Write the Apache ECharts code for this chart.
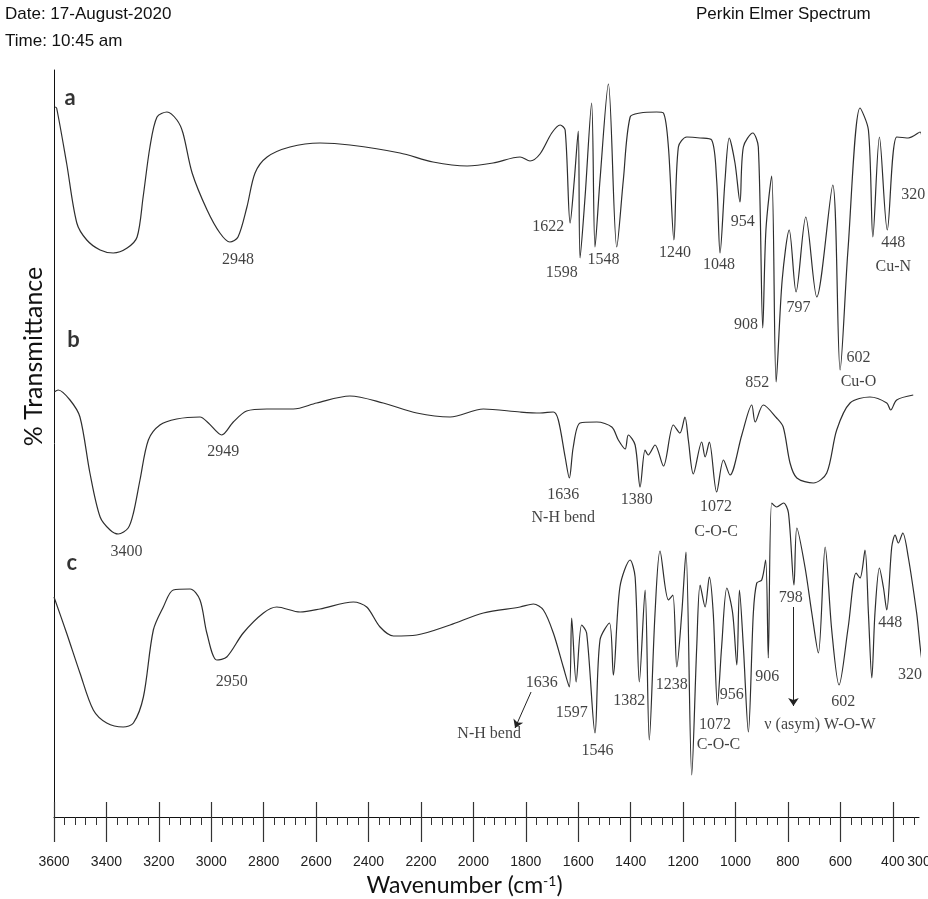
<!DOCTYPE html>
<html>
<head>
<meta charset="utf-8">
<title>FTIR spectra</title>
<script src="https://cdn.jsdelivr.net/npm/echarts@6/dist/echarts.min.js"></script>
<style>
html, body { margin: 0; padding: 0; background: #fff; }
#chart { width: 928px; height: 899px; }
</style>
</head>
<body>
<div id="chart"></div>
<script>
// [wavenumber cm-1, relative transmittance] - the three curves are stacked
var traceA = [
	[3596,71.0],[3590,70.9],[3552,65.4],[3513,59.4],[3475,57.7],[3424,56.7],[3374,56.4],[3321,56.9],
	[3283,58.0],[3260,62.0],[3234,67.0],[3207,70.0],[3169,70.5],[3131,69.7],[3108,68.4],[3073,64.4],
	[3016,60.7],[2967,58.4],[2929,57.5],[2898,58.0],[2864,61.0],[2833,64.4],[2787,66.0],[2700,67.0],
	[2585,67.4],[2471,67.2],[2280,66.4],[2154,65.5],[2024,65.1],[1925,65.4],[1822,66.0],[1784,65.6],
	[1746,66.3],[1701,68.4],[1669,69.2],[1650,68.7],[1631,59.4],[1615,63.7],[1600,68.6],[1593,55.9],
	[1574,62.0],[1549,71.4],[1536,57.0],[1517,63.7],[1485,73.3],[1453,57.0],[1428,63.7],[1402,70.0],
	[1364,70.4],[1301,70.5],[1275,70.4],[1256,67.0],[1235,57.7],[1218,67.0],[1186,68.0],[1135,67.9],
	[1091,67.7],[1072,63.7],[1059,56.4],[1040,63.7],[1024,67.9],[1002,65.4],[983,61.5],[970,67.0],
	[934,68.4],[913,67.0],[896,48.9],[884,58.7],[862,64.1],[845,43.5],[822,53.7],[795,58.7],
	[769,52.5],[732,60.0],[690,52.0],[629,63.2],[601,44.7],[571,56.7],[525,70.9],[493,68.7],
	[476,58.0],[451,68.0],[421,58.7],[385,68.0],[341,67.9],[296,68.5],[277,63.0],[266,67.4]
];
var traceB = [
	[3599,42.5],[3584,42.7],[3539,41.7],[3501,40.0],[3463,34.4],[3424,30.0],[3386,28.7],[3355,28.3],
	[3317,28.9],[3297,30.4],[3272,33.7],[3240,37.7],[3196,39.2],[3132,39.8],[3043,40.0],[3011,39.4],
	[2960,38.2],[2916,39.5],[2865,40.6],[2788,40.8],[2687,40.8],[2598,41.4],[2471,42.1],[2344,41.4],
	[2216,40.4],[2089,40.0],[1962,40.8],[1822,40.5],[1746,40.4],[1695,40.5],[1676,39.7],[1650,36.0],
	[1634,33.9],[1619,37.0],[1593,39.4],[1529,39.5],[1472,39.0],[1447,37.7],[1421,36.8],[1409,38.2],
	[1383,37.2],[1364,33.0],[1345,36.7],[1333,36.2],[1307,37.2],[1275,35.1],[1237,39.2],[1212,38.4],
	[1193,40.0],[1180,37.7],[1161,34.3],[1129,37.5],[1116,36.0],[1100,37.5],[1072,32.5],[1046,35.7],
	[1021,34.2],[976,38.2],[938,41.2],[925,39.5],[894,41.2],[843,39.9],[818,39.0],[792,35.4],
	[766,33.9],[703,33.4],[652,34.4],[614,38.7],[563,41.4],[487,42.0],[423,41.4],[408,40.7],
	[385,41.7],[322,42.2]
];
var traceC = [
	[3600,22.0],[3552,18.4],[3501,14.4],[3450,10.7],[3399,9.4],[3336,9.0],[3297,9.4],[3259,12.0],
	[3221,18.7],[3183,21.0],[3145,22.7],[3081,22.8],[3043,21.7],[3017,18.4],[2979,15.7],[2941,16.0],
	[2878,18.4],[2801,20.4],[2750,21.0],[2661,20.5],[2585,20.8],[2458,21.5],[2407,21.0],[2356,19.0],
	[2305,18.1],[2216,18.2],[2089,19.2],[1962,20.4],[1822,21.0],[1771,21.3],[1733,20.7],[1695,18.4],
	[1657,15.0],[1634,13.0],[1625,19.9],[1608,13.5],[1587,19.2],[1568,18.4],[1536,8.4],[1517,17.7],
	[1481,19.4],[1466,14.2],[1441,23.0],[1402,25.7],[1383,24.0],[1367,13.5],[1345,22.7],[1329,7.7],
	[1307,20.4],[1288,26.6],[1256,21.7],[1239,22.2],[1224,15.0],[1205,20.4],[1189,26.5],[1167,4.2],
	[1148,17.0],[1135,23.2],[1116,21.0],[1100,24.0],[1085,20.4],[1069,11.2],[1053,17.0],[1033,22.9],
	[1011,20.4],[995,15.2],[985,22.7],[970,17.0],[951,8.5],[932,20.4],[919,23.4],[900,23.7],
	[885,25.7],[875,15.9],[862,31.4],[843,31.0],[817,31.4],[798,30.4],[777,23.2],[766,28.9],
	[735,25.0],[709,20.4],[684,16.4],[658,27.0],[633,18.7],[605,13.2],[570,19.0],[540,24.4],
	[525,23.9],[506,26.7],[493,20.4],[480,13.9],[468,20.4],[451,24.9],[436,23.0],[423,20.7],
	[404,27.0],[391,28.2],[379,27.4],[362,28.4],[341,26.0],[309,20.4],[283,15.0],[265,18.0]
];

// peak annotations: [wavenumber, level, text]
var labelsA = [
	[2898,55.7,'2948'],[1714,59.0,'1622'],[1663,54.4,'1598'],[1504,55.7,'1548'],[1231,56.4,'1240'],
	[1063,55.2,'1048'],[972,59.5,'954'],[960,49.2,'908'],[917,43.4,'852'],[760,50.9,'797'],
	[531,45.9,'602'],[531,43.5,'Cu-O'],[398,57.4,'448'],[398,55.0,'Cu-N'],[322,62.2,'320']
];
var labelsB = [
	[2954,36.5,'2949'],[3323,26.5,'3400'],[1657,32.2,'1636'],[1657,29.9,'N-H bend'],
	[1377,31.7,'1380'],[1074,31.0,'1072'],[1074,28.5,'C-O-C']
];
var labelsC = [
	[2922,13.5,'2950'],[1739,13.4,'1636'],[1940,8.3,'N-H bend'],[1625,10.4,'1597'],[1527,6.6,'1546'],
	[1405,11.6,'1382'],[1243,13.2,'1238'],[1078,9.2,'1072'],[1065,7.2,'C-O-C'],[1014,12.2,'956'],
	[879,14.0,'906'],[789,21.9,'798'],[678,9.2,'ν (asym) W-O-W'],[589,11.5,'602'],[410,19.4,'448'],
	[334,14.2,'320']
];
var traceNames = [[3539,71.9,'a'],[3526,47.7,'b'],[3532,25.4,'c']];
var arrows = [
	[[1780,12.5],[1841,8.9]],
	[[779,21.0],[779,11.1]]
];

var tickLabels = [3600,3400,3200,3000,2800,2600,2400,2200,2000,1800,1600,1400,1200,1000,800,600,400,300];
var majorTicks = [3600,3400,3200,3000,2800,2600,2400,2200,2000,1800,1600,1400,1200,1000,800,600,400];
var minorTicks = [];
for (var w = 3560; w > 300; w -= 40) {
	if (w % 200 != 0) minorTicks.push(w);
}

var serif = 'Liberation Serif';
var sans = '"Liberation Sans", Arial, sans-serif';

function lineSeries(data) {
	return {
		type: 'line', data: data, symbol: 'none', smooth: 0.3, clip: false, silent: true,
		lineStyle: {color: '#2e2e2e', width: 1.2}
	};
}
function textSeries(list, style) {
	return {
		type: 'scatter', symbolSize: 1, clip: false, silent: true,
		itemStyle: {color: 'rgba(0,0,0,0)'},
		data: list.map(function (d) { return {value: [d[0], d[1]], name: d[2]}; }),
		label: Object.assign({show: true, position: 'inside', formatter: '{b}', color: '#111'}, style)
	};
}

var arrowSeries = textSeries([], {});
arrowSeries.markLine = {
	silent: true, symbol: ['none', 'arrow'], symbolSize: 8, animation: false,
	label: {show: false},
	lineStyle: {color: '#222', width: 1, type: 'solid'},
	data: arrows.map(function (a) { return [{coord: a[0]}, {coord: a[1]}]; })
};

var xBase = {type: 'value', inverse: true, min: 300, max: 3600, position: 'bottom', splitLine: {show: false}};
var headStyle = {fontFamily: sans, fontSize: 17, fontWeight: 'normal', color: '#111'};

var myChart = echarts.init(document.getElementById('chart'));
var option = {
	animation: false,
	title: [
		{text: 'Date: 17-August-2020', left: 5, top: 6, padding: 0, textStyle: headStyle},
		{text: 'Time: 10:45 am', left: 5, top: 33, padding: 0, textStyle: headStyle},
		{text: 'Perkin Elmer Spectrum', left: 696, top: 6, padding: 0, textStyle: headStyle}
	],
	grid: {left: 54, right: 9, top: 70, bottom: 82, containLabel: false, outerBoundsMode: 'none'},
	xAxis: [
		Object.assign({}, xBase, {
			axisLine: {show: true, lineStyle: {color: '#111', width: 1}},
			axisTick: {show: true, customValues: majorTicks, length: 25, lineStyle: {color: '#333', width: 1.2}},
			axisLabel: {
				customValues: tickLabels, margin: 38, fontFamily: sans, fontSize: 14, color: '#222',
				showMinLabel: true, showMaxLabel: true, hideOverlap: false,
				formatter: function (v) { return String(v); }
			},
			name: 'Wavenumber (cm{sup|-1})',
			nameLocation: 'middle',
			nameGap: 57,
			nameTextStyle: {
				fontFamily: 'Lato', fontSize: 23, color: '#111', padding: [0, 44, 0, 0],
				rich: {sup: {fontFamily: 'Lato', fontSize: 14, verticalAlign: 'top', padding: [0, 0, 10, 0], color: '#111'}}
			}
		}),
		Object.assign({}, xBase, {
			axisLine: {show: false},
			axisTick: {show: true, inside: true, customValues: majorTicks, length: 15, lineStyle: {color: '#333', width: 1.2}},
			axisLabel: {show: false}
		}),
		Object.assign({}, xBase, {
			axisLine: {show: false},
			axisTick: {show: true, customValues: minorTicks, length: 8, lineStyle: {color: '#333', width: 1}},
			axisLabel: {show: false}
		})
	],
	yAxis: {
		type: 'value', min: 0, max: 74.7,
		axisLine: {show: true, lineStyle: {color: '#111', width: 1}},
		axisTick: {show: false},
		axisLabel: {show: false},
		splitLine: {show: false},
		name: '% Transmittance',
		nameLocation: 'middle',
		nameRotate: 90,
		nameGap: 8,
		nameTextStyle: {fontFamily: 'Lato', fontSize: 25, color: '#111', padding: [0, 0, 0, 174]}
	},
	series: [
		lineSeries(traceA),
		lineSeries(traceB),
		lineSeries(traceC),
		textSeries(labelsA, {fontFamily: serif, fontSize: 16}),
		textSeries(labelsB, {fontFamily: serif, fontSize: 16}),
		textSeries(labelsC, {fontFamily: serif, fontSize: 16}),
		textSeries(traceNames, {fontFamily: 'Lato', fontSize: 22, fontWeight: 'bold', color: '#000'}),
		arrowSeries
	]
};
myChart.setOption(option);
</script>
</body>
</html>
